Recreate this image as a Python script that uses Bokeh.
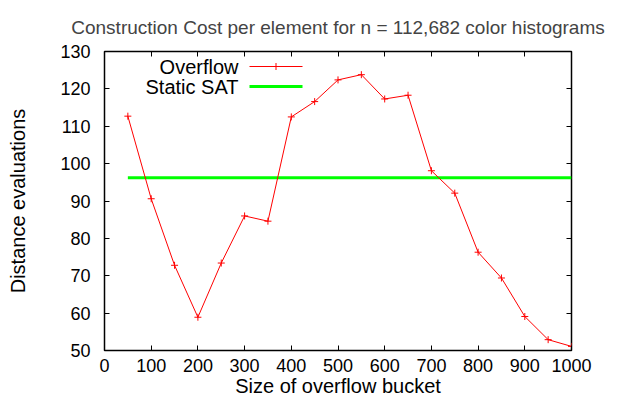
from bokeh.plotting import figure
from bokeh.models import LinearAxis, Label, Arrow, Range1d, FixedTicker
from bokeh.embed import file_html
from bokeh.resources import INLINE

# ---- data ----
bucket_sizes = [50, 100, 150, 200, 250, 300, 350, 400, 450, 500,
                550, 600, 650, 700, 750, 800, 850, 900, 950, 1000]
overflow = [112.7, 90.6, 72.8, 58.9, 73.4, 86.0, 84.6, 112.5, 116.6, 122.4,
            123.8, 117.3, 118.3, 98.1, 92.1, 76.3, 69.4, 59.1, 52.9, 51.1]
static_sat_x = [50, 1000]
static_sat_y = [96.2, 96.2]
x_ticks = [0, 100, 200, 300, 400, 500, 600, 700, 800, 900, 1000]
y_ticks = [50, 60, 70, 80, 90, 100, 110, 120, 130]
series_names = ["Overflow", "Static SAT"]
title_text = "Construction Cost per element for n = 112,682 color histograms"
x_label = "Size of overflow bucket"
y_label = "Distance evaluations"

FONT = "Liberation Sans"

p = figure(width=610, height=400, output_backend="svg", toolbar_location=None,
           x_range=Range1d(0, 1000), y_range=Range1d(50, 130),
           min_border_left=104, min_border_right=39, min_border_top=51, min_border_bottom=50,
           x_axis_label=x_label, y_axis_label=y_label)

p.title.text = title_text
p.title.align = "center"
p.title.text_font = FONT
p.title.text_font_size = "19px"
p.title.text_font_style = "normal"
p.title.standoff = 27

p.grid.visible = False
p.outline_line_color = "black"
p.outline_line_width = 1.5
p.outline_line_alpha = 1.0

def style_axis(ax, show_labels=True):
    ax.axis_line_color = None
    ax.major_tick_in = 5
    ax.major_tick_out = 0
    ax.minor_tick_line_color = None
    ax.major_tick_line_color = "black"
    ax.major_tick_line_width = 1
    ax.major_label_text_font = FONT
    ax.major_label_text_font_size = "18px"
    ax.major_label_text_color = "black"
    ax.axis_label_text_font = FONT
    ax.axis_label_text_font_size = "20px"
    ax.axis_label_text_font_style = "normal"
    ax.axis_label_text_color = "black"
    if not show_labels:
        ax.major_label_text_font_size = "0px"
        ax.major_label_standoff = 0

p.xaxis.ticker = FixedTicker(ticks=x_ticks)
p.yaxis.ticker = FixedTicker(ticks=y_ticks)
for ax in p.xaxis + p.yaxis:
    style_axis(ax)
p.xaxis.major_label_standoff = 8
p.xaxis.axis_label_standoff = 0
p.yaxis.major_label_standoff = 14
p.yaxis.axis_label_standoff = 28

top_ax = LinearAxis(ticker=FixedTicker(ticks=x_ticks))
right_ax = LinearAxis(ticker=FixedTicker(ticks=y_ticks))
style_axis(top_ax, False)
style_axis(right_ax, False)
p.add_layout(top_ax, "above")
p.add_layout(right_ax, "right")

p.line(static_sat_x, static_sat_y, line_color="#00ff00", line_width=3)
p.line(bucket_sizes, overflow, line_color="#ff0000", line_width=1)
p.scatter(bucket_sizes, overflow, marker="cross", size=7, line_color="#ff0000", line_width=1)

# legend (gnuplot style: text then sample); screen units relative to the frame
leg_y = [284, 264]
for name, yy in zip(series_names, leg_y):
    p.add_layout(Label(x=134, y=yy, x_units="screen", y_units="screen", text=name,
                       text_font=FONT, text_font_size="20px", text_align="right",
                       text_baseline="middle", text_color="black"))
p.add_layout(Arrow(x_start=145, y_start=leg_y[0], x_end=198, y_end=leg_y[0],
                   start_units="screen", end_units="screen", end=None,
                   line_color="#ff0000", line_width=1))
p.add_layout(Arrow(x_start=171.5, y_start=leg_y[0] - 3.5, x_end=171.5, y_end=leg_y[0] + 3.5,
                   start_units="screen", end_units="screen", end=None,
                   line_color="#ff0000", line_width=1))
p.add_layout(Arrow(x_start=145, y_start=leg_y[1], x_end=198, y_end=leg_y[1],
                   start_units="screen", end_units="screen", end=None,
                   line_color="#00ff00", line_width=3))

open("out.html", "w").write(file_html(p, INLINE))
